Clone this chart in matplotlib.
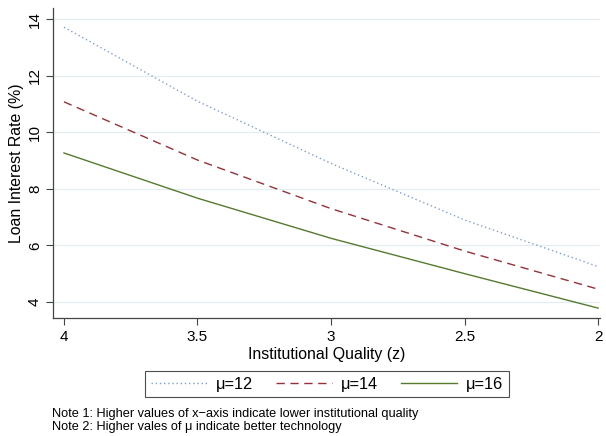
import matplotlib
matplotlib.use("Agg")
import matplotlib.pyplot as plt

z = [4, 3.5, 3, 2.5, 2]
mu12 = [13.72, 11.1, 8.9, 6.9, 5.25]
mu14 = [11.08, 9.02, 7.3, 5.8, 4.45]
mu16 = [9.27, 7.67, 6.25, 5.0, 3.78]
labels = ["\u03bc=12", "\u03bc=14", "\u03bc=16"]
xticks = [4, 3.5, 3, 2.5, 2]
xticklabels = ["4", "3.5", "3", "2.5", "2"]
yticks = [4, 6, 8, 10, 12, 14]

plt.rcParams['font.family'] = ['Liberation Sans', 'DejaVu Sans']
fig = plt.figure(figsize=(6.06, 4.36), dpi=100)
ax = fig.add_axes([53/606, 1-318/436, 547/606, 310/436])

l1, = ax.plot(z, mu12, color="#7f9fc8", lw=1.0, ls=(0, (1, 2)))
l2, = ax.plot(z, mu14, color="#94323a", lw=1.0, ls=(0, (6, 4)))
l3, = ax.plot(z, mu16, color="#557a30", lw=1.0, ls="-")

ax.set_xlim(4.041, 1.993)
ax.set_ylim(3.43, 14.4)
ax.set_xticks(xticks)
ax.set_xticklabels(xticklabels)
ax.set_yticks(yticks)
ax.set_yticklabels([str(v) for v in yticks], rotation=90, va="center")
ax.grid(axis="y", color="#e4eef0", lw=0.9)
ax.set_axisbelow(True)
for s in ["top", "right"]:
    ax.spines[s].set_visible(False)
for s in ["left", "bottom"]:
    ax.spines[s].set_color("#444444")
    ax.spines[s].set_linewidth(0.9)
ax.tick_params(axis="both", labelsize=11, color="#444444", length=5, width=0.8)
ax.tick_params(axis="y", pad=3)
ax.set_xlabel("Institutional Quality (z)", fontsize=11.4, labelpad=2)
ax.set_ylabel("Loan Interest Rate (%)", fontsize=11.4, labelpad=3)

leg = fig.legend([l1, l2, l3], labels, loc="center", ncol=3,
                 bbox_to_anchor=(327/606, 1-384/436), fontsize=11.8,
                 frameon=True, fancybox=False, edgecolor="#222222",
                 handlelength=3.4, columnspacing=1.4, handletextpad=0.55,
                 borderpad=0.35, borderaxespad=0)
leg.get_frame().set_linewidth(0.8)

fig.text(52/606, 1-417/436, "Note 1: Higher values of x\u2212axis indicate lower institutional quality",
         fontsize=9.2, va="baseline")
fig.text(52/606, 1-430/436, "Note 2: Higher vales of \u03bc indicate better technology",
         fontsize=9.2, va="baseline")

fig.savefig("out.png", dpi=100, facecolor="white")
